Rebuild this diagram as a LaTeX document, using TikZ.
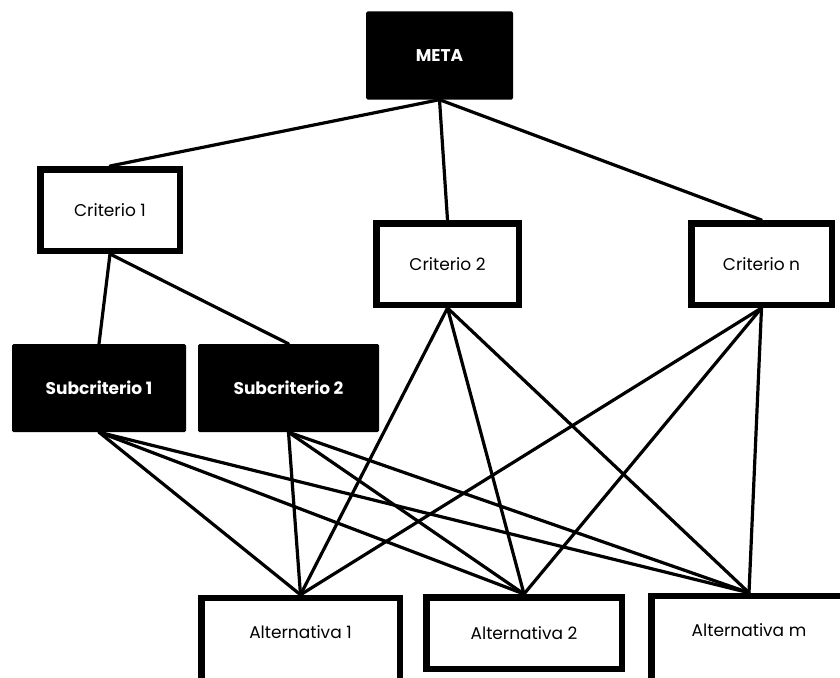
\documentclass[tikz,border=0pt]{standalone}
\usepackage{fontspec}
\setmainfont{Poppins}
\usetikzlibrary{positioning}

\tikzset{
  crit/.style={draw, line width=6.5pt, fill=white, minimum width=#1, minimum height=81.5pt, font=\fontsize{17}{19}\selectfont, inner sep=0pt},
  crit/.default=140pt,
  blackbox/.style={fill=black, text=white, rounded corners=1.5pt, minimum width=#1, minimum height=88pt, font=\fontsize{17}{19}\selectfont\bfseries, inner sep=0pt},
  link/.style={line width=3.2pt, line cap=round}
}

\begin{document}
\begin{tikzpicture}[x=1pt, y=-1pt]
  \useasboundingbox (0,0) rectangle (840,677);
  % top level
  \node[blackbox=147pt] (meta) at (439.5,55.5) {META};
  % criteria
  \node[crit=139.5pt] (c1) at (110,210) {Criterio 1};
  \node[crit=142.5pt] (c2) at (447.5,264) {Criterio 2};
  \node[crit=140.5pt] (cn) at (761.5,264) {Criterio n};
  % sub criteria
  \node[blackbox=174pt] (s1) at (99,388) {Subcriterio 1};
  \node[blackbox=181pt] (s2) at (288.5,388) {Subcriterio 2};
  % alternatives (boxes run off the bottom edge)
  \node[crit=198.5pt, minimum height=88pt, text depth=20pt] (a1) at (300.5,642) {Alternativa 1};
  \node[crit=195.5pt, minimum height=71.5pt] (a2) at (524,633) {Alternativa 2};
  \node[crit=195.5pt, minimum height=88pt, text depth=20pt] (am) at (749,640) {Alternativa m};

  \draw[link] (meta.south) -- (c1.north);
  \draw[link] (meta.south) -- (c2.north);
  \draw[link] (meta.south) -- (cn.north);
  \draw[link] (c1.south) -- (s1.north);
  \draw[link] (c1.south) -- (s2.north);
  \foreach \s in {s1,s2,c2,cn} {
    \foreach \a in {a1,a2,am} {
      \draw[link] (\s.south) -- (\a.north);
    }
  }
\end{tikzpicture}
\end{document}
